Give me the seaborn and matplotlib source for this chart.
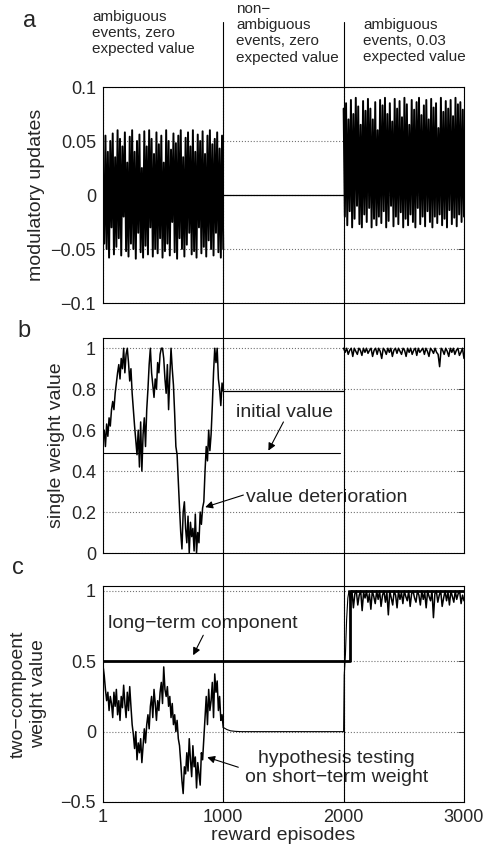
import numpy as np
import matplotlib
matplotlib.use('Agg')
import matplotlib.pyplot as plt
import matplotlib.transforms as mtransforms
from matplotlib.lines import Line2D
import seaborn as sns

# phase boundaries (reward episodes)
phase_edges = [1000, 2000]
x_start, x_end = 1, 3000

# panel a: modulatory updates
mod_phase1 = [0.02, -0.045, 0.055, -0.05, 0.04, -0.058, 0.05, -0.03, 0.057, -0.055,
              0.035, -0.048, 0.06, -0.04, 0.052, -0.056, 0.045, -0.02, 0.058, -0.052,
              0.03, -0.057, 0.054, -0.045, 0.06, -0.05, 0.04, -0.059, 0.05, -0.035,
              0.056, -0.053, 0.025, -0.058, 0.059, -0.047, 0.045, -0.055, 0.06, -0.03,
              0.052, -0.057, 0.038, -0.05, 0.058, -0.054, 0.047, -0.04, 0.055, -0.058,
              0.03, -0.052, 0.06, -0.045, 0.05, -0.056, 0.042, -0.025, 0.057, -0.053,
              0.048, -0.059, 0.055, -0.04, 0.06, -0.05, 0.035, -0.057, 0.053, -0.046,
              0.058, -0.035, 0.045, -0.055, 0.06, -0.052, 0.04, -0.058, 0.056, -0.03,
              0.05, -0.054, 0.059, -0.048, 0.038, -0.057, 0.055, -0.042, 0.06, -0.05,
              0.047, -0.056, 0.052, -0.035, 0.058, -0.053, 0.043, -0.058, 0.055, -0.05]
mod_phase2 = [0.0, 0.0]
mod_phase3 = [0.08, -0.02, 0.085, -0.028, 0.07, -0.015, 0.088, -0.03, 0.075, -0.022,
              0.09, -0.01, 0.082, -0.027, 0.065, -0.03, 0.087, -0.018, 0.078, -0.025,
              0.089, -0.012, 0.08, -0.03, 0.07, -0.022, 0.086, -0.028, 0.06, -0.02,
              0.088, -0.026, 0.083, -0.015, 0.09, -0.03, 0.075, -0.024, 0.085, -0.01,
              0.068, -0.029, 0.089, -0.02, 0.08, -0.027, 0.087, -0.016, 0.072, -0.03,
              0.09, -0.022, 0.084, -0.028, 0.065, -0.018, 0.088, -0.025, 0.079, -0.03,
              0.086, -0.012, 0.09, -0.027, 0.074, -0.02, 0.083, -0.029, 0.088, -0.015,
              0.07, -0.025, 0.089, -0.03, 0.081, -0.02, 0.085, -0.026, 0.062, -0.018,
              0.09, -0.028, 0.077, -0.022, 0.087, -0.03, 0.08, -0.014, 0.088, -0.027,
              0.073, -0.021, 0.09, -0.029, 0.084, -0.018, 0.086, -0.025, 0.079, -0.02]

# panel b: single weight value
single_phase1 = [0.55, 0.60, 0.52, 0.63, 0.57, 0.66, 0.62, 0.70,
                 0.74, 0.70, 0.78, 0.83, 0.88,
                 0.92, 0.85, 0.95, 0.90, 1.00, 0.88, 0.97, 1.00, 0.93, 0.84, 0.90,
                 0.78, 0.70, 0.62, 0.55, 0.48, 0.60, 0.42, 0.64, 0.40, 0.58,
                 0.66, 0.52, 0.70,
                 0.80, 0.92, 1.00, 0.88, 0.82, 0.76, 0.85, 0.80, 0.93, 0.88, 0.97,
                 1.00, 1.00, 0.95, 0.85, 0.78, 0.92, 0.70, 0.86, 1.00, 0.90, 0.82,
                 0.68, 0.52, 0.48, 0.35, 0.22,
                 0.10, 0.02, 0.20, 0.25, 0.12, 0.05, 0.18, 0.00, 0.15, 0.08,
                 0.12, 0.01, 0.19, 0.00, 0.10, 0.05, 0.20, 0.14, 0.22,
                 0.25, 0.40, 0.52, 0.45, 0.60, 0.50, 0.58, 0.72, 0.88, 1.00,
                 0.93, 1.00, 0.85, 0.80, 0.72, 0.83, 0.79]
single_phase2 = [0.79, 0.79]
single_phase3 = [1.0, 0.98, 1.0, 0.97, 0.99, 1.0, 0.96, 1.0, 0.985, 0.97,
                 1.0, 0.99, 0.965, 1.0, 0.98, 1.0, 0.975, 0.99, 1.0, 0.96,
                 0.99, 1.0, 0.97, 1.0, 0.985, 0.95, 1.0, 0.99, 0.97, 1.0,
                 0.98, 1.0, 0.96, 0.99, 1.0, 0.975, 1.0, 0.985, 0.97, 1.0,
                 0.99, 0.96, 1.0, 0.98, 1.0, 0.97, 0.99, 1.0, 0.965, 1.0,
                 0.98, 0.99, 1.0, 0.97, 1.0, 0.985, 0.96, 1.0, 0.99, 0.975,
                 1.0, 0.98, 0.97, 0.91, 1.0, 0.99, 0.97, 1.0, 0.985, 0.96,
                 1.0, 0.98, 1.0, 0.97, 0.99, 1.0, 0.965, 0.98, 1.0, 0.95]
initial_value = 0.49
initial_value_end = 1967

# panel c: two-component weight
short_phase1 = [0.47, 0.40,
                0.30, 0.22, 0.28, 0.15, 0.25, 0.20,
                0.10, 0.28, 0.18, 0.30, 0.12, 0.22, 0.08, 0.25, 0.17, 0.33,
                0.20, 0.10, 0.28, 0.15, 0.32, 0.18, 0.05,
                -0.02, -0.12, 0.00, -0.20, -0.08, -0.15, -0.05, -0.22, -0.10, 0.02, -0.08,
                0.05, 0.12, 0.02, 0.18, 0.25, 0.10, 0.30, 0.20, 0.08, 0.22,
                0.15, 0.28, 0.35, 0.20, 0.46, 0.30, 0.25,
                0.32, 0.18, 0.25, 0.10, 0.20, 0.05, 0.12, 0.00, 0.08, -0.05, -0.10,
                -0.22, -0.35, -0.44, -0.25, -0.30, -0.15, -0.28, -0.05, -0.20, -0.32,
                -0.10, -0.25, -0.18, -0.40, -0.22, -0.30, -0.38, -0.15, -0.20,
                -0.05, 0.10, 0.25, 0.05, 0.30, 0.15, 0.22, 0.35, 0.10, 0.41,
                0.28, 0.36, 0.15, 0.25, 0.08, 0.12, 0.03]
short_phase2_x = [1000, 1030, 1060, 1100, 1150, 2000, 2005, 2015, 2025, 2035, 2045]
short_phase2 = [0.03, 0.015, 0.006, 0.002, 0.0, 0.0, 0.40, 0.55, 0.80, 0.95, 1.0]
short_phase3 = [1.0, 0.93, 1.0, 0.88, 0.98, 1.0, 0.90, 0.97, 1.0, 0.86,
                0.99, 0.95, 1.0, 0.92, 0.98, 0.87, 1.0, 0.96, 0.91, 1.0,
                0.94, 1.0, 0.89, 0.97, 1.0, 0.92, 0.99, 0.83, 1.0, 0.95,
                0.90, 1.0, 0.97, 0.88, 1.0, 0.94, 0.99, 0.91, 1.0, 0.96,
                0.93, 1.0, 0.89, 0.98, 1.0, 0.95, 0.92, 1.0, 0.97, 0.90,
                1.0, 0.94, 0.99, 0.88, 1.0, 0.96, 0.93, 1.0, 0.81, 0.98,
                1.0, 0.92, 0.97, 1.0, 0.89, 0.95, 1.0, 0.93, 0.99, 0.90,
                1.0, 0.96, 0.92, 1.0, 0.94, 0.98, 1.0, 0.91, 0.97, 0.93]
long_x = [1, 2050, 2050, 3000]
long_y = [0.5, 0.5, 1.0, 1.0]

sns.set_style('white')
plt.rcParams['font.family'] = ['Liberation Sans', 'DejaVu Sans']

W, H = 486, 848
fig = plt.figure(figsize=(W / 100, H / 100), dpi=100)


def box(top, bottom, left=103, right=464):
    return [left / W, 1 - bottom / H, (right - left) / W, (bottom - top) / H]


ax_a = fig.add_axes(box(87, 303))
ax_b = fig.add_axes(box(338, 553))
ax_c = fig.add_axes(box(586, 802))


def seg(ax, y, x0, x1, lw=0.9):
    sns.lineplot(x=np.linspace(x0, x1, len(y)), y=y, ax=ax, color='k', lw=lw,
                 estimator=None, sort=False)


# panel a
seg(ax_a, mod_phase1, x_start, phase_edges[0], lw=1.4)
seg(ax_a, mod_phase2, phase_edges[0], phase_edges[1])
seg(ax_a, mod_phase3, phase_edges[1], x_end, lw=1.4)

# panel b
seg(ax_b, single_phase1, x_start, phase_edges[0], lw=1.1)
seg(ax_b, single_phase2, phase_edges[0], phase_edges[1])
seg(ax_b, single_phase3, phase_edges[1], x_end, lw=1.1)
sns.lineplot(x=[x_start, initial_value_end], y=[initial_value, initial_value], ax=ax_b,
             color='k', lw=0.8)

# panel c
seg(ax_c, short_phase1, x_start, phase_edges[0], lw=1.1)
sns.lineplot(x=short_phase2_x, y=short_phase2, ax=ax_c, color='k', lw=0.8,
             estimator=None, sort=False)
seg(ax_c, short_phase3, 2045, x_end, lw=1.1)
sns.lineplot(x=long_x, y=long_y, ax=ax_c, color='k', lw=2.0, estimator=None, sort=False)

for ax in (ax_a, ax_b, ax_c):
    ax.set_xlim(x_start, x_end)
    ax.set_xticks([1, 1000, 2000, 3000])
    ax.grid(True, linestyle=':', color='0.45', lw=0.8)
    ax.tick_params(direction='in', top=True, right=True, length=4, width=0.6,
                   labelsize=13, pad=5)
    for sp in ax.spines.values():
        sp.set_color('k')
        sp.set_linewidth(0.8)

ax_a.set_ylim(-0.1, 0.1)
ax_a.set_yticks([-0.1, -0.05, 0, 0.05, 0.1])
ax_a.set_yticklabels(['\u22120.1', '\u22120.05', '0', '0.05', '0.1'])
ax_a.tick_params(labelbottom=False)
ax_a.set_xlabel('')
ax_a.set_ylabel('modulatory updates', fontsize=14)

ax_b.set_ylim(0, 1.05)
ax_b.set_yticks([0, 0.2, 0.4, 0.6, 0.8, 1])
ax_b.set_yticklabels(['0', '0.2', '0.4', '0.6', '0.8', '1'])
ax_b.tick_params(labelbottom=False)
ax_b.set_xlabel('')
ax_b.set_ylabel('single weight value', fontsize=14)

ax_c.set_ylim(-0.5, 1.035)
ax_c.set_yticks([-0.5, 0, 0.5, 1])
ax_c.set_yticklabels(['\u22120.5', '0', '0.5', '1'])
ax_c.set_xticklabels(['1', '1000', '2000', '3000'])
ax_c.set_ylabel('two\u2212compoent\nweight value', fontsize=14, linespacing=1.25)
ax_c.yaxis.set_label_coords(-0.155, 0.5)
ax_c.set_xlabel('reward episodes', fontsize=14, labelpad=1)

# annotations
arrow = dict(arrowstyle='-|>', color='k', lw=0.8, mutation_scale=11, shrinkA=0, shrinkB=0)
ax_b.text(1108, 0.688, 'initial value', fontsize=14, va='center', ha='left')
ax_b.annotate('', xy=(1375, 0.50), xytext=(1500, 0.64), arrowprops=arrow)
ax_b.text(1192, 0.273, 'value deterioration', fontsize=14, va='center', ha='left')
ax_b.annotate('', xy=(850, 0.224), xytext=(1167, 0.283), arrowprops=arrow)
ax_c.text(42, 0.77, 'long\u2212term component', fontsize=14, va='center', ha='left')
ax_c.annotate('', xy=(750, 0.543), xytext=(834, 0.685), arrowprops=arrow)
ax_c.text(1942, -0.257, 'hypothesis testing\non short\u2212term weight', fontsize=14,
          va='center', ha='center', linespacing=1.2)
ax_c.annotate('', xy=(867, -0.182), xytext=(1125, -0.253), arrowprops=arrow)

# phase boundary lines across all panels
trans = mtransforms.blended_transform_factory(ax_c.transData, fig.transFigure)
for xe in phase_edges:
    fig.add_artist(Line2D([xe, xe], [1 - 22 / H, 1 - 802 / H], transform=trans,
                          color='k', lw=0.8))

# phase captions
fig.text(92 / W, 1 - 10 / H, 'ambiguous\nevents, zero\nexpected value', fontsize=11,
         va='top', ha='left', linespacing=1.2)
fig.text(236 / W, 1 - 2 / H, 'non\u2212\nambiguous\nevents, zero\nexpected value',
         fontsize=11, va='top', ha='left', linespacing=1.2)
fig.text(363 / W, 1 - 18 / H, 'ambiguous\nevents, 0.03\nexpected value', fontsize=11,
         va='top', ha='left', linespacing=1.2)

# panel letters
fig.text(23 / W, 1 - 27 / H, 'a', fontsize=17, va='baseline')
fig.text(17 / W, 1 - 337 / H, 'b', fontsize=17, va='baseline')
fig.text(12 / W, 1 - 574 / H, 'c', fontsize=17, va='baseline')

fig.savefig('out.png', dpi=100)
